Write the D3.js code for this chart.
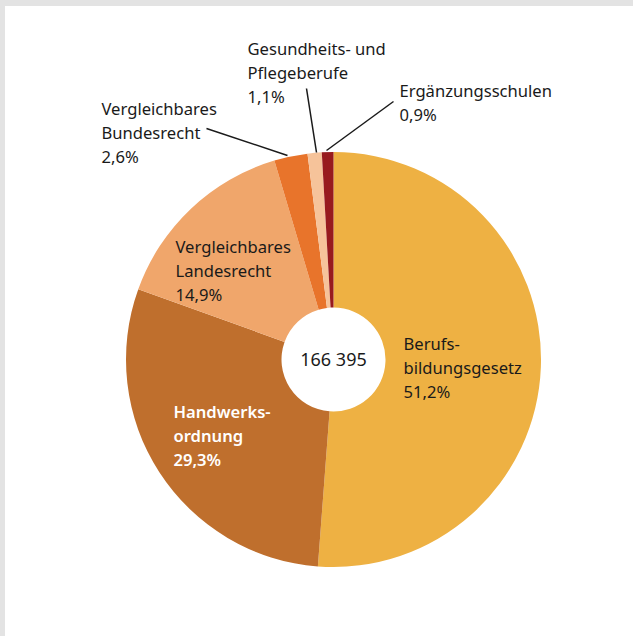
<!DOCTYPE html>
<html>
<head>
<meta charset="utf-8">
<script src="https://cdn.jsdelivr.net/npm/d3@7"></script>
<style>
  html, body { margin: 0; padding: 0; background: #e3e3e3; }
  #chart { position: absolute; left: 5px; top: 6px; width: 628px; height: 630px; background: #ffffff; }
  text { font-family: "Noto Sans", "Open Sans", sans-serif; font-size: 16.6px; fill: #1a1a1a; }
</style>
</head>
<body>
<div id="chart"></div>
<script>
// Data
const categories = [
    ["Berufs-", "bildungsgesetz"],
    ["Handwerks-", "ordnung"],
    ["Vergleichbares", "Landesrecht"],
    ["Vergleichbares", "Bundesrecht"],
    ["Gesundheits- und", "Pflegeberufe"],
    ["Ergänzungsschulen"]
];
const shares = [51.2, 29.3, 14.9, 2.6, 1.1, 0.9];
const shareLabels = ["51,2%", "29,3%", "14,9%", "2,6%", "1,1%", "0,9%"];
const total = "166 395";

const colors = ["#eeb143", "#bf6f2d", "#f0a66b", "#e8742b", "#f6c39a", "#981b1e"];

// label placement: inside labels sit at an offset from the center,
// outside ones get a leader line
const labelLayout = [
    { x: 70, y: -10, fill: "#1a1a1a" },
    { x: -160, y: 58, fill: "#ffffff", weight: 600 },
    { x: -158, y: -107, fill: "#1a1a1a" },
    { x: -232, y: -245, leader: [-127, -231, -46, -204] },
    { x: -86, y: -305, leader: [-27, -271, -17, -207] },
    { x: 66, y: -263, leader: [60, -258, -7, -209] }
];

const width = 628, height = 630;
const cx = 328.5, cy = 353.5;
const outerR = 207.5, innerR = 52;

const svg = d3.select("#chart")
    .append("svg")
    .attr("width", width)
    .attr("height", height)
    .append("g")
    .attr("transform", `translate(${cx},${cy})`);

const pie = d3.pie().sort(null).value(d => d)
    .startAngle(0).endAngle(2 * Math.PI);
const arc = d3.arc().innerRadius(innerR).outerRadius(outerR);

svg.selectAll("path.slice")
    .data(pie(shares))
    .enter()
    .append("path")
    .attr("class", "slice")
    .attr("d", arc)
    .attr("fill", (d, i) => colors[i]);

// leader lines
svg.selectAll("line.leader")
    .data(labelLayout.filter(d => d.leader))
    .enter()
    .append("line")
    .attr("class", "leader")
    .attr("x1", d => d.leader[0])
    .attr("y1", d => d.leader[1])
    .attr("x2", d => d.leader[2])
    .attr("y2", d => d.leader[3])
    .attr("stroke", "#1a1a1a")
    .attr("stroke-width", 1.5);

// labels
const lineH = 24;
categories.forEach((lines, i) => {
    const l = labelLayout[i];
    const t = svg.append("text")
        .attr("x", l.x)
        .attr("y", l.y)
        .style("fill", l.fill || "#1a1a1a")
        .style("font-weight", l.weight || 400);
    lines.concat([shareLabels[i]]).forEach((s, k) => {
        t.append("tspan")
            .attr("x", l.x)
            .attr("dy", k === 0 ? 0 : lineH)
            .text(s);
    });
});

// total in the hole
svg.append("text")
    .attr("text-anchor", "middle")
    .attr("dy", "0.35em")
    .style("font-size", "18px")
    .text(total);
</script>
</body>
</html>
